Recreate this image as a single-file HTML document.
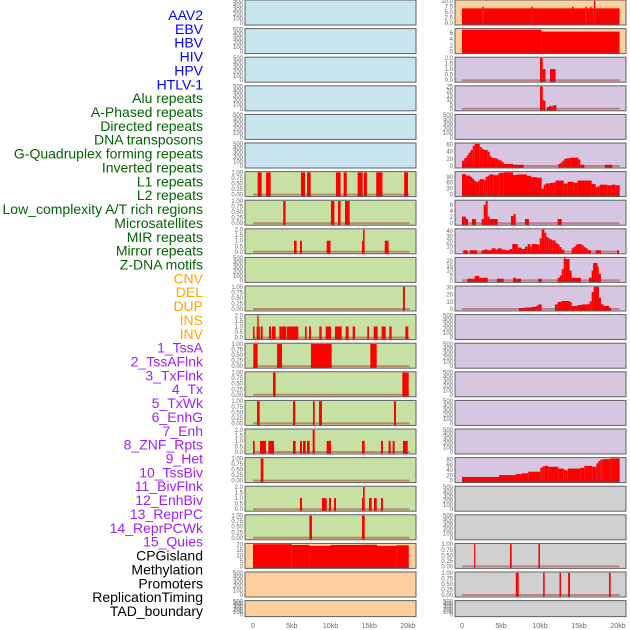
<!DOCTYPE html>
<html><head><meta charset="utf-8">
<style>
html,body{margin:0;padding:0;background:#fff;}
svg{display:block;font-family:"Liberation Sans",sans-serif;}
</style></head>
<body>
<svg id="chart" width="630" height="630" viewBox="0 0 630 630" xmlns="http://www.w3.org/2000/svg"></svg>
<script>
const labels = ["AAV2","EBV","HBV","HIV","HPV","HTLV-1","Alu repeats","A-Phased repeats","Directed repeats","DNA transposons","G-Quadruplex forming repeats","Inverted repeats","L1 repeats","L2 repeats","Low_complexity A/T rich regions","Microsatellites","MIR repeats","Mirror repeats","Z-DNA motifs","CNV","DEL","DUP","INS","INV","1_TssA","2_TssAFlnk","3_TxFlnk","4_Tx","5_TxWk","6_EnhG","7_Enh","8_ZNF_Rpts","9_Het","10_TssBiv","11_BivFlnk","12_EnhBiv","13_ReprPC","14_ReprPCWk","15_Quies","CPGisland","Methylation","Promoters","ReplicationTiming","TAD_boundary"];
const labelColors = ["#0000ff","#0000ff","#0000ff","#0000ff","#0000ff","#0000ff","#006400","#006400","#006400","#006400","#006400","#006400","#006400","#006400","#006400","#006400","#006400","#006400","#006400","#ffa500","#ffa500","#ffa500","#ffa500","#ffa500","#a020f0","#a020f0","#a020f0","#a020f0","#a020f0","#a020f0","#a020f0","#a020f0","#a020f0","#a020f0","#a020f0","#a020f0","#a020f0","#a020f0","#a020f0","#000000","#000000","#000000","#000000","#000000"];
const xTicks = [0,5,10,15,20];
const xTickLabels = ["0","5kb","10kb","15kb","20kb"];
const ticksEmpty = [0,100,200,300,400,500];
const ticksBin = [0,0.25,0.5,0.75,1];
const ticks2 = [0,0.5,1,1.5,2];
// segments: [startKb, endKb, value]
const alu = [[0.6,1.12,1],[1.68,2.28,1],[6.19,6.71,1],[6.97,7.44,1],[10.7,11.3,1],[11.7,12.1,1],[13.5,14.15,1],[14.3,14.7,1],[15.9,16.7,1],[19.5,20.0,1]];
const aphased = [[3.9,4.2,1],[10.06,10.5,1],[10.97,11.3,1],[11.87,12.47,1]];
const directed = [[5.29,5.63,1],[6.06,6.32,1],[9.5,10.0,1],[14.06,14.2,1],[14.2,14.4,2],[17.0,17.5,1]];
const gquad = [[19.35,19.6,1]];
const inverted = [[0,0.2,1],[0.47,0.56,1],[0.56,0.73,2],[0.73,0.86,1],[0.99,1.25,1],[2.06,2.32,1],[2.45,2.92,1],[3.4,4.26,1],[4.34,5.85,1],[6.71,6.92,1],[7.23,7.48,1],[8.56,8.86,1],[9.38,10.06,1],[10.58,11.44,1],[11.96,12.34,1],[12.86,13.16,1],[14.75,14.97,1],[15.57,16.09,1],[16.6,17.12,1],[17.59,17.89,1],[19.66,20.04,1]];
const l1 = [[0.04,0.6,1],[3.1,3.74,1],[7.48,10.15,1],[15.14,15.96,1]];
const l2 = [[2.58,2.92,1],[19.27,20.09,1]];
const lowcomplex = [[0.52,0.86,1],[5.16,5.46,1],[7.74,7.96,1],[8.52,8.9,1],[18.19,18.45,1]];
const micro = [[0,0.22,1],[0.9,1.68,1],[1.98,2.71,1],[5.16,5.5,1],[6.06,6.32,1],[6.45,6.8,1],[6.97,7.31,1],[7.7,7.96,2],[9.5,10.06,1],[14.06,14.41,1],[16.52,16.77,1],[17.5,17.76,1],[18.02,18.28,1],[19.35,19.96,1]];
const mir = [[1.0,1.34,1]];
const mirror = [[6.06,6.32,1],[8.9,9.5,1],[9.8,10.06,1],[10.45,10.71,1],[14.06,14.2,1],[14.2,14.41,2],[14.97,15.31,1],[15.61,15.96,1],[16.52,16.77,1]];
const zdna = [[7.27,7.61,1],[14.06,14.41,1]];
const cnv = [[0,5,20.5],[5,7.3,19.8],[7.3,10,19],[10,14,19.8],[14,16,20],[16,18.5,19],[18.5,20.1,19.5]];
const ins = [[0,2.6,6.6],[2.6,2.8,7.3],[2.8,8.9,6.6],[8.9,9.1,7.4],[9.1,14.1,6.6],[14.1,14.3,7.4],[14.3,15.8,6.6],[15.8,16.0,7.3],[16.0,16.4,6.6],[16.4,16.6,7.3],[16.6,16.9,6.6],[16.9,17.1,10],[17.1,20.2,6.6]];
const inv = [[0,10.2,7.0],[10.2,20.2,6.4]];
const tssa = [[10.0,10.35,2],[10.35,10.7,1],[11.28,12.0,1]];
const tssaflnk = [[10.0,10.35,25],[10.35,10.5,10],[10.5,10.7,9],[10.9,11.15,2],[11.15,11.7,3],[11.7,12.1,4]];
const tx = [[0,0.3,14.8],[0.3,0.6,22.6],[0.6,0.84,29.6],[0.84,1.1,37],[1.1,1.37,45],[1.37,1.63,56.5],[1.63,2.27,61.7],[2.27,2.52,53],[2.52,2.78,48],[2.78,3.29,45],[3.29,3.55,40],[3.55,3.8,27],[3.8,4.32,22.6],[4.32,4.57,21],[4.57,4.83,18],[4.83,5.09,15.6],[5.09,5.34,11.3],[5.34,6.54,6],[6.54,7.9,3.5],[12.35,12.6,6],[12.6,12.86,9.5],[12.86,13.12,15],[13.12,13.38,20],[13.38,13.89,21.7],[13.89,14.92,23.5],[14.92,15.17,18],[15.17,15.68,3.5],[18.33,19.27,3.5]];
const txwk = [[0,0.51,103],[0.51,1.03,96],[1.03,1.28,90],[1.28,1.54,81],[1.54,1.8,70],[1.8,2.05,64],[2.05,2.27,70],[2.27,2.78,78],[2.78,3.03,74],[3.03,3.29,90],[3.29,3.55,96],[3.55,4.06,102],[4.06,4.57,98],[4.57,4.83,105],[4.83,5.34,110],[5.34,6.54,112],[6.54,7.05,99],[7.05,8.33,102],[8.33,8.85,95],[8.85,9.62,88],[9.62,10.21,85],[10.21,10.47,31],[10.47,10.73,50],[10.73,11.24,56],[11.24,11.75,59],[11.75,12.01,62],[12.01,13.04,71],[13.04,13.55,56],[13.55,14.32,65],[14.32,14.83,60],[14.83,16.62,71],[16.62,17.14,53],[17.14,17.39,37],[17.39,17.65,42],[17.65,18.68,50],[18.68,19.19,47],[19.19,19.7,50],[19.7,20.21,47]];
const enhg = [[0,0.51,2.2],[0.51,0.77,1.4],[1.28,1.8,1.4],[2.52,2.78,1.4],[2.78,3.03,6.1],[3.03,3.29,7.4],[3.29,3.55,2.2],[3.55,4.57,1.4],[6.28,6.62,2.4],[6.62,6.88,3.1],[8.08,8.59,1.4],[12.26,12.78,1.4]];
const enh = [[0.2,0.72,3],[1.0,1.93,3],[2.52,2.78,3],[2.78,3.29,4.2],[3.29,3.8,3],[3.8,4.32,6.7],[4.32,4.57,4.2],[4.57,5.09,6.7],[5.09,5.6,4.2],[5.6,6.11,3],[6.11,6.45,5.5],[6.45,7.14,15],[7.14,7.65,8],[7.65,8.08,5.5],[8.08,8.42,10],[8.42,8.76,15],[8.76,8.93,10],[8.93,9.62,15],[9.62,9.96,14],[9.96,10.21,26],[10.21,10.56,43],[10.56,10.81,37],[10.81,11.07,28.5],[11.07,11.32,26],[11.32,11.58,24],[11.58,12.01,22],[12.01,12.26,17],[12.26,12.52,14],[12.52,12.78,9],[12.78,13.12,4.2],[14.06,14.32,6.7],[14.32,14.57,10],[14.57,14.83,14],[14.83,15.34,15],[15.34,15.6,12.7],[15.6,15.85,9],[15.85,16.11,6.7],[16.11,16.54,3],[17.14,17.82,3],[19.87,20.13,3]];
const znf = [[0.68,1.63,1.7],[1.63,2.22,4.7],[2.22,3.29,2.7],[4.49,5.34,1.7],[6.54,6.88,2.7],[6.88,7.56,1.7],[9.79,10.21,1.7],[12.26,12.52,2.7],[12.52,12.78,5],[12.78,13.04,11.7],[13.04,13.29,23],[13.29,13.8,22],[13.8,14.06,10],[14.06,15.26,2.7],[16.28,16.62,2.7],[16.62,16.8,10],[16.8,17.39,18],[17.39,17.56,14],[17.56,17.82,6.7]];
const het = [[7.31,7.99,1.3],[7.99,8.93,2.1],[8.93,9.53,3],[9.53,9.79,4.7],[9.79,10.21,6.4],[11.92,12.26,6.4],[12.26,12.78,9.9],[12.78,13.8,11.2],[13.8,14.06,9.9],[14.06,14.83,4.3],[14.83,15.34,5.6],[15.34,16.11,6.4],[16.11,16.37,7.3],[16.37,16.62,10.7],[16.62,16.88,23.6],[16.88,17.56,31],[17.56,17.82,15.9],[17.82,18.16,6.4],[18.16,18.85,4.3],[18.85,19.1,2]];
const reprpcwk = [[0,4.74,14],[4.74,6.88,21],[6.88,7.65,25],[7.65,8.5,28],[8.5,10.04,34],[10.04,10.3,49.4],[10.3,10.56,54],[10.56,11.07,56.5],[11.07,12.35,53],[12.35,13.04,46],[13.04,13.29,42],[13.29,13.55,39],[13.55,15.17,46],[15.17,15.68,49],[15.68,16.71,56.5],[16.71,17.22,53],[17.22,17.48,66],[17.48,17.73,75],[17.73,17.99,80],[17.99,19.02,82],[19.02,20.21,85]];
const promoters = [[1.55,1.7,1],[6.15,6.37,1],[9.8,10.0,1]];
const replication = [[6.9,7.27,1],[10.4,10.6,1],[12.5,12.7,1],[13.6,13.85,1],[18.85,19.06,1]];

const BLUE="#c8e4ec", GREEN="#c7e0a3", ORANGE="#fdd09e", LAV="#d6c6e2", GRAY="#d0d0d0";
const leftRows = [
 ["aav2",BLUE,null,ticksEmpty,500],["ebv",BLUE,null,ticksEmpty,500],["hbv",BLUE,null,ticksEmpty,500],
 ["hiv",BLUE,null,ticksEmpty,500],["hpv",BLUE,null,ticksEmpty,500],["htlv1",BLUE,null,ticksEmpty,500],
 ["alu",GREEN,alu,ticksBin,1],["aphased",GREEN,aphased,ticksBin,1],["directed",GREEN,directed,ticks2,2],
 ["dna-transposons",GREEN,null,ticksEmpty,500],["gquad",GREEN,gquad,ticksBin,1],["inverted",GREEN,inverted,ticks2,2],
 ["l1",GREEN,l1,ticksBin,1],["l2",GREEN,l2,ticksBin,1],["lowcomplex",GREEN,lowcomplex,ticksBin,1],
 ["micro",GREEN,micro,ticks2,2],["mir",GREEN,mir,ticksBin,1],["mirror",GREEN,mirror,ticks2,2],
 ["zdna",GREEN,zdna,ticksBin,1],["cnv",ORANGE,cnv,[0,5,10,15,20],20.5],["del",ORANGE,null,ticksEmpty,500],["dup",ORANGE,null,ticksEmpty,500]
];
const rightRows = [
 ["ins",ORANGE,ins,[0,2.5,5,7.5,10],10],["inv",ORANGE,inv,[0,2,4,6],7.1],["tssa",LAV,tssa,ticks2,2],
 ["tssaflnk",LAV,tssaflnk,[0,5,10,15,20,25],25],["txflnk",LAV,null,ticksEmpty,500],["tx",LAV,tx,[0,20,40,60],62],
 ["txwk",LAV,txwk,[0,30,60,90],112],["enhg",LAV,enhg,[0,2,4,6],7.4],["enh",LAV,enh,[0,10,20,30,40],43],
 ["znf",LAV,znf,[0,5,10,15,20],23],["het",LAV,het,[0,10,20,30],31],["tssbiv",LAV,null,ticksEmpty,500],
 ["bivflnk",LAV,null,ticksEmpty,500],["enhbiv",LAV,null,ticksEmpty,500],["reprpc",LAV,null,ticksEmpty,500],
 ["quies",LAV,null,ticksEmpty,500],["reprpcwk",LAV,reprpcwk,[0,20,40,60,80],85],["cpgisland",GRAY,null,ticksEmpty,500],
 ["methylation",GRAY,null,ticksEmpty,500],["promoters",GRAY,promoters,ticksBin,1],["replication",GRAY,replication,ticksBin,1],["tad",GRAY,null,ticksEmpty,500]
];
</script>
<script>
const svg = document.getElementById('chart');
const NS = "http://www.w3.org/2000/svg";
function mk(tag, attrs, parent){ const e=document.createElementNS(NS,tag); for(const k in attrs) e.setAttribute(k,attrs[k]); (parent||svg).appendChild(e); return e; }

labels.forEach((t,i)=>{
  const el = mk('text',{x:203,y:15+i*13.86,'text-anchor':'end','dominant-baseline':'central','font-size':14,fill:labelColors[i]});
  
  
  el.textContent=t;
});

function fmt(v, ticks){
  const dec = ticks.some(t=>Math.abs(t*4-Math.round(t*4))<1e-9 && t%0.5!==0) ? 2 : (ticks.some(t=>t%1!==0)?1:0);
  return v.toFixed(dec);
}

function drawColumn(rows, x0kb, x20kb, left, right, colName){
  const xs = kb => x0kb + (x20kb-x0kb)*kb/20;
  rows.forEach((row,r)=>{
    const [name,bg,data,ticks,ymax] = row;
    const top = r*28.6;
    const h = (r===21)?16:25;
    const g = mk('g',{});
    
    
    const bgr = mk('rect',{x:left,y:top,width:right-left,height:h,fill:bg},g);
    
    
    const zeroY = top+h-2, topY = top+0.8;
    const ys = v => zeroY - (zeroY-topY)*v/ymax;
    if(data){
      data.forEach(d=>{
        const x1=xs(d[0]), x2=xs(d[1]); const y1=Math.max(top,ys(d[2]));
        const b = mk('rect',{x:x1,y:y1,width:Math.max(1.2,x2-x1),height:top+h-y1,fill:'#ff0000'},g);
        
        
      });
      const bl = mk('line',{x1:xs(0),x2:xs(20.2),y1:zeroY,y2:zeroY,stroke:'rgba(170,30,30,0.45)','stroke-width':2},g);
      
      
    }
    const br = mk('rect',{x:left,y:top,width:right-left,height:h,fill:'none',stroke:'#606060','stroke-width':1},g);
    
    
    ticks.forEach(t=>{
      const ty = ys(t);
      const tl = mk('text',{x:left-2,y:ty+2,'text-anchor':'end','font-size':6,fill:'#666'},g);
      
      
      tl.textContent = fmt(t,ticks);
    });
  });
  xTicks.forEach((t,i)=>{
    const tl = mk('text',{x:xs(t),y:628,'text-anchor':'middle','font-size':7,fill:'#666'});
    
    
    tl.textContent = xTickLabels[i];
  });
}
drawColumn(leftRows,253,408,245,416,'left');
drawColumn(rightRows,462,618,455,626,'right');
</script>
</body></html>
